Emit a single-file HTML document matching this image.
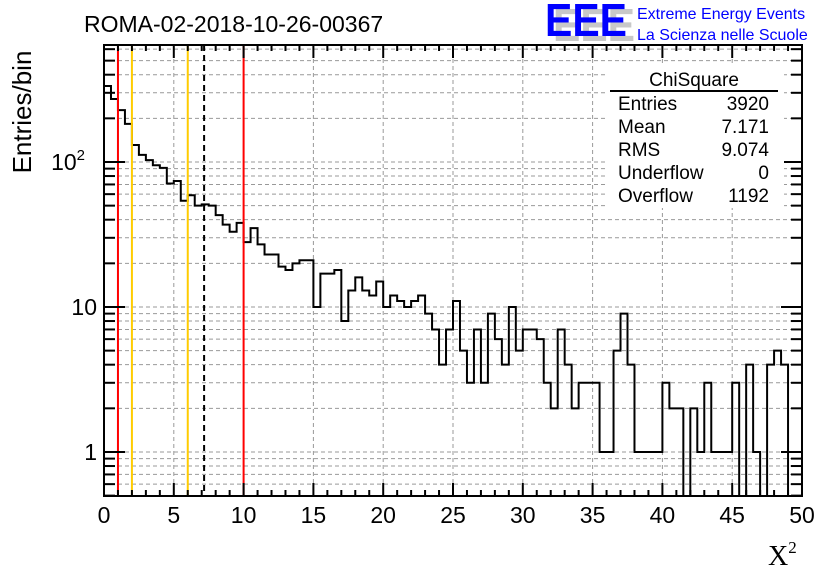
<!DOCTYPE html>
<html><head><meta charset="utf-8"><style>
body{margin:0;background:#fff;}
svg{display:block;font-family:"Liberation Sans",sans-serif;}
</style></head><body>
<svg id="chart" width="836" height="572" viewBox="0 0 836 572" xmlns="http://www.w3.org/2000/svg">
<rect x="0" y="0" width="836" height="572" fill="#fff"/>
<text x="84" y="32" font-size="23">ROMA-02-2018-10-26-00367</text>
<g>
<text x="553" y="41" font-size="46" font-weight="bold" fill="#c8c8c8" textLength="82" lengthAdjust="spacingAndGlyphs">EEE</text>
<text x="545" y="36" font-size="46" font-weight="bold" fill="#0000ff" textLength="82" lengthAdjust="spacingAndGlyphs">EEE</text>
<text x="637" y="19" font-size="16" fill="#0000ff">Extreme Energy Events</text>
<text x="637" y="40" font-size="16" fill="#0000ff">La Scienza nelle Scuole</text>
</g>
<g id="grid"></g>
<g id="marks"></g>
<g id="axes"></g>
<g>
<rect x="608" y="64" width="176" height="144" fill="#fff"/>
<text x="694" y="86" font-size="19" text-anchor="middle">ChiSquare</text>
<line x1="610" y1="91" x2="778" y2="91" stroke="#000" stroke-width="2"/>
<text x="618" y="110" font-size="19">Entries</text><text x="769" y="110" font-size="19" text-anchor="end">3920</text>
<text x="618" y="133" font-size="19">Mean</text><text x="769" y="133" font-size="19" text-anchor="end">7.171</text>
<text x="618" y="156" font-size="19">RMS</text><text x="769" y="156" font-size="19" text-anchor="end">9.074</text>
<text x="618" y="179" font-size="19">Underflow</text><text x="769" y="179" font-size="19" text-anchor="end">0</text>
<text x="618" y="202" font-size="19">Overflow</text><text x="769" y="202" font-size="19" text-anchor="end">1192</text>
</g>
<text transform="translate(31,112) rotate(-90)" font-size="26" text-anchor="middle">Entries/bin</text>
<text x="768" y="565" font-size="28" font-family="'Liberation Serif',serif">X<tspan font-size="17" dy="-12">2</tspan></text>
</svg>
<script>
const counts=[334,272,228,183,131,112,103,95,91,71,74,54,59,50,51,50,43,37,33,38,28,35,27,23,23,19,18,20,21,21,10,17,17,18,8,13,16,13,12,15,10,12,11,10,11,12,9,7,4,7,11,5,3,7,3,9,6,4,10,5,7,7,6,3,2,7,4,2,3,3,3,1,1,5,9,4,1,1,1,1,3,2,2,0,2,1,3,1,1,1,3,0,4,1,0,4,5,4,0,0];
const binWidth=0.5;
const xTicks=[0,5,10,15,20,25,30,35,40,45,50];
const yDecades=[1,10,100];
const vLinesRed=[1,10];
const vLinesYellow=[2,6];
const meanValue=7.171;
const X0=104,X1=802,Y0=496,Y1=45;
const yMin=0.497,yMax=641;
const sx=v=>X0+(v-0)/(50-0)*(X1-X0);
const sy=v=>Y0-(Math.log10(v)-Math.log10(yMin))/(Math.log10(yMax)-Math.log10(yMin))*(Y0-Y1);
const NS="http://www.w3.org/2000/svg";
function mk(parent,tag,attrs){const e=document.createElementNS(NS,tag);for(const k in attrs)e.setAttribute(k,attrs[k]);parent.appendChild(e);return e;}
const grid=document.getElementById('grid'),marks=document.getElementById('marks'),axes=document.getElementById('axes');
xTicks.forEach(t=>{if(t>0&&t<50){const l=mk(grid,'line',{x1:sx(t),x2:sx(t),y1:Y1,y2:Y0,stroke:'#999','stroke-dasharray':'4,3','stroke-width':1});

}});
const gridVals=[0.5,0.6,0.7,0.8,0.9].concat(...yDecades.map(d=>[1,2,3,4,5,6,7,8,9].map(m=>d*m)));
gridVals.forEach(v=>{if(v<yMin||v>yMax)return;const l=mk(grid,'line',{x1:X0,x2:X1,y1:sy(v),y2:sy(v),stroke:'#999','stroke-dasharray':'4,3','stroke-width':1});

});
let d='';const clampY=v=>v<=0?Y0:sy(Math.max(v,yMin));
counts.forEach((c,i)=>{const xa=sx(i*binWidth),xb=sx((i+1)*binWidth),y=clampY(c);d+=(i===0?'M'+xa+','+y:'L'+xa+','+y)+'L'+xb+','+y;});
d+='L'+X1+','+Y0;
const hist=mk(marks,'path',{d:d,fill:'none',stroke:'#000','stroke-width':2});


vLinesRed.forEach(v=>{const l=mk(marks,'line',{x1:sx(v),x2:sx(v),y1:Y1,y2:Y0,stroke:'#f00','stroke-width':2});

});
vLinesYellow.forEach(v=>{const l=mk(marks,'line',{x1:sx(v),x2:sx(v),y1:Y1,y2:Y0,stroke:'#fc0','stroke-width':2});

});
const ml=mk(marks,'line',{x1:sx(meanValue),x2:sx(meanValue),y1:Y1,y2:Y0,stroke:'#000','stroke-width':2,'stroke-dasharray':'6,4'});


const fr=mk(axes,'rect',{x:X0,y:Y1,width:X1-X0,height:Y0-Y1,fill:'none',stroke:'#000','stroke-width':2});


for(let t=0;t<=50;t++){const len=t%5===0?13:6;const x=sx(t);
mk(axes,'line',{x1:x,x2:x,y1:Y0,y2:Y0-len,stroke:'#000','stroke-width':2});
mk(axes,'line',{x1:x,x2:x,y1:Y1,y2:Y1+len,stroke:'#000','stroke-width':2});}
xTicks.forEach(t=>{const tx=mk(axes,'text',{x:sx(t),y:523,'font-size':23,'text-anchor':'middle'});tx.textContent=t;

});
gridVals.forEach(v=>{if(v<yMin||v>yMax)return;const len=(Math.abs(Math.log10(v)%1)<1e-9)?21:11;const y=sy(v);
mk(axes,'line',{x1:X0,x2:X0+len,y1:y,y2:y,stroke:'#000','stroke-width':2});
mk(axes,'line',{x1:X1,x2:X1-len,y1:y,y2:y,stroke:'#000','stroke-width':2});});
const ylab=[['1',''],['10',''],['10','2']];
yDecades.forEach((v,i)=>{const tx=mk(axes,'text',{x:i===2?85:97,y:sy(v)+8,'font-size':23,'text-anchor':'end'});tx.textContent=ylab[i][0];
if(ylab[i][1]){const ts=mk(tx,'tspan',{'font-size':15,dy:-10});ts.textContent=ylab[i][1];}

});
</script>
</body></html>
